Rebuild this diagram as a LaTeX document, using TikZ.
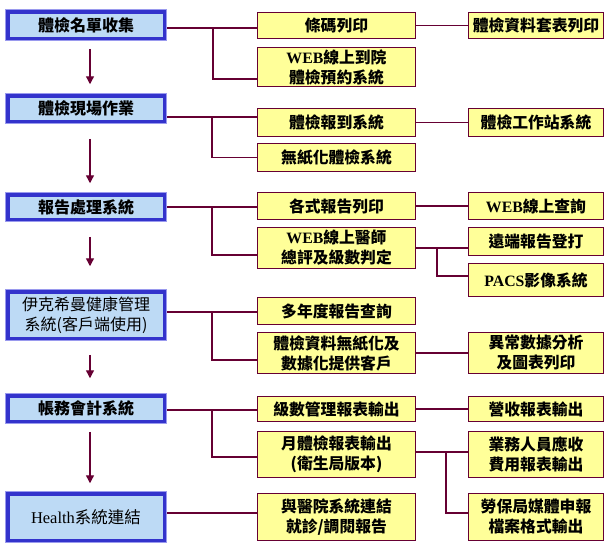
\documentclass[tikz,border=0pt]{standalone}
\usepackage{fontspec}
\setmainfont{Noto Sans CJK TC}
\newfontfamily\lat{Liberation Serif}
\usetikzlibrary{arrows.meta,backgrounds}
\definecolor{lblue}{HTML}{BDDAF5}
\definecolor{dblue}{HTML}{3333CC}
\definecolor{rimblue}{HTML}{9A9AEE}
\definecolor{ylw}{HTML}{FFFF99}
\definecolor{maroon}{HTML}{660033}
\tikzset{
  lbox/.style={preaction={draw=rimblue,line width=5.5pt},draw=dblue,line width=3.5pt,fill=lblue,
    minimum width=156.5pt,inner sep=0pt,align=center,font=\fontsize{16}{20}\selectfont\bfseries},
  ybox/.style={draw=maroon,line width=1.2pt,fill=ylw,inner sep=0pt,align=center,
    font=\fontsize{15.8}{20}\selectfont\bfseries},
  mbox/.style={ybox,minimum width=157.8pt},
  rbox/.style={ybox,minimum width=134.8pt},
  con/.style={draw=maroon,line width=1.3pt},
  arr/.style={draw=maroon,line width=1.3pt,-{Triangle[width=8pt,length=8pt]}}
}
\begin{document}
\begin{tikzpicture}[x=1pt,y=-1pt]
\useasboundingbox (0,0) rectangle (609,550);
% left column
\node[lbox,minimum height=26.5pt] (L1) at (86,25) {體檢名單收集};
\node[lbox,minimum height=25.5pt] (L2) at (86,108.5) {體檢現場作業};
\node[lbox,minimum height=24.5pt] (L3) at (86,207) {報告處理系統};
\node[lbox,minimum height=46.5pt,font=\fontsize{16}{20}\selectfont] (L4) at (86,315) {伊克希曼健康管理\\系統(客戶端使用)};
\node[lbox,minimum height=25.5pt] (L5) at (86,408.5) {帳務會計系統};
\node[lbox,minimum height=46.5pt,font=\fontsize{16.5}{20}\selectfont] (L6) at (86,517) {{\lat Health}系統連結};
% middle column
\node[mbox,minimum height=25.8pt] (M1a) at (336.5,25.5) {條碼列印};
\node[mbox,minimum height=38.8pt] (M1b) at (336.5,67) {{\lat WEB}線上到院\\體檢預約系統};
\node[mbox,minimum height=27.8pt] (M2a) at (336.5,122.5) {體檢報到系統};
\node[mbox,minimum height=27.8pt] (M2b) at (336.5,157.5) {無紙化體檢系統};
\node[mbox,minimum height=26.8pt] (M3a) at (336.5,206) {各式報告列印};
\node[mbox,minimum height=40.8pt] (M3b) at (336.5,248) {{\lat WEB}線上醫師\\總評及級數判定};
\node[mbox,minimum height=26.8pt] (M4a) at (336.5,311) {多年度報告查詢};
\node[mbox,minimum height=40.8pt] (M4b) at (336.5,353) {體檢資料無紙化及\\數據化提供客戶};
\node[mbox,minimum height=24.8pt] (M5a) at (336.5,409) {級數管理報表輸出};
\node[mbox,minimum height=45.8pt] (M5b) at (336.5,454.5) {月體檢報表輸出\\(衛生局版本)};
\node[mbox,minimum height=46.8pt] (M6) at (336.5,517) {與醫院系統連結\\就診/調閱報告};
% right column
\node[rbox,minimum height=25.8pt] (R1) at (536,25.5) {體檢資料套表列印};
\node[rbox,minimum height=27.8pt] (R2) at (536,122.5) {體檢工作站系統};
\node[rbox,minimum height=26.8pt] (R3a) at (536,206) {{\lat WEB}線上查詢};
\node[rbox,minimum height=27.8pt] (R3b) at (536,241.5) {遠端報告登打};
\node[rbox,minimum height=32.8pt] (R3c) at (536,280) {{\lat PACS}影像系統};
\node[rbox,minimum height=40.8pt] (R4) at (536,353) {異常數據分析\\及圖表列印};
\node[rbox,minimum height=24.8pt] (R5a) at (536,409) {營收報表輸出};
\node[rbox,minimum height=45.8pt] (R5b) at (536,454.5) {業務人員應收\\費用報表輸出};
\node[rbox,minimum height=46.8pt] (R5c) at (536,517) {勞保局媒體申報\\檔案格式輸出};
% junction coordinates
\coordinate (j1) at (213,28);  \coordinate (b1) at (213,79);
\coordinate (j2) at (212,117); \coordinate (b2) at (212,157.5);
\coordinate (j3) at (212,207); \coordinate (b3) at (212,255);
\coordinate (k3) at (437,248); \coordinate (c3) at (437,276);
\coordinate (j4) at (212,312); \coordinate (b4) at (212,360);
\coordinate (j5) at (212,410); \coordinate (b5) at (212,457);
\coordinate (k5) at (446,452); \coordinate (c5) at (446,513);
\coordinate (j6) at (212,513);
\begin{pgfonlayer}{background}
\draw[con] (L1.east |- j1) -- (M1a.west |- j1);
\draw[con] (j1) -- (b1) -- (M1b.west |- b1);
\draw[con] (M1a.east) -- (R1.west);
\draw[con] (L2.east |- j2) -- (M2a.west |- j2);
\draw[con] (j2) -- (b2) -- (M2b.west |- b2);
\draw[con] (M2a.east) -- (R2.west);
\draw[con] (L3.east |- j3) -- (M3a.west |- j3);
\draw[con] (j3) -- (b3) -- (M3b.west |- b3);
\draw[con] (M3a.east) -- (R3a.west);
\draw[con] (M3b.east |- k3) -- (R3b.west |- k3);
\draw[con] (k3) -- (c3) -- (R3c.west |- c3);
\draw[con] (L4.east |- j4) -- (M4a.west |- j4);
\draw[con] (j4) -- (b4) -- (M4b.west |- b4);
\draw[con] (M4b.east) -- (R4.west);
\draw[con] (L5.east |- j5) -- (M5a.west |- j5);
\draw[con] (j5) -- (b5) -- (M5b.west |- b5);
\draw[con] (M5a.east) -- (R5a.west);
\draw[con] (M5b.east |- k5) -- (R5b.west |- k5);
\draw[con] (k5) -- (c5) -- (R5c.west |- c5);
\draw[con] (L6.east |- j6) -- (M6.west |- j6);
\end{pgfonlayer}
% flow arrows
\draw[arr] ([xshift=4pt,yshift=-8.75pt]L1.south) -- ([xshift=4pt,yshift=9.75pt]L2.north);
\draw[arr] ([xshift=4pt,yshift=-15.75pt]L2.south) -- ([xshift=4pt,yshift=9.75pt]L3.north);
\draw[arr] ([xshift=4pt,yshift=-15.75pt]L3.south) -- ([xshift=4pt,yshift=23.75pt]L4.north);
\draw[arr] ([xshift=4pt,yshift=-14.75pt]L4.south) -- ([xshift=4pt,yshift=15.75pt]L5.north);
\draw[arr] ([xshift=4pt,yshift=-8.75pt]L5.south) -- ([xshift=4pt,yshift=8.75pt]L6.north);
\end{tikzpicture}
\end{document}
